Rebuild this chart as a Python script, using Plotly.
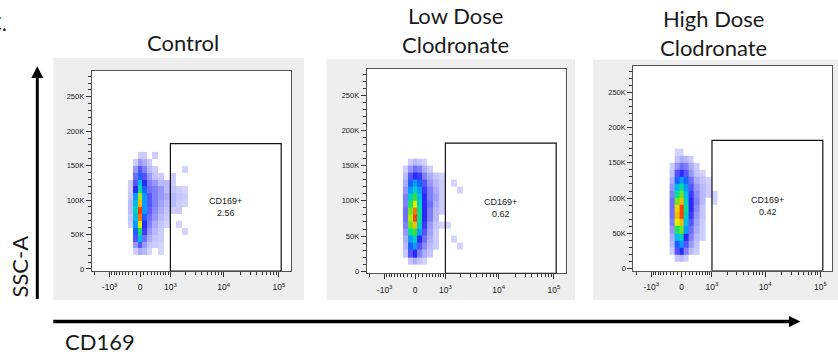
import numpy as np
import plotly.graph_objects as go

# ---------------- data ----------------
COFACTOR = 613.0  # arcsinh display transform of the CD169 (biexponential-like) axis


def disp(v):
    return np.arcsinh(np.asarray(v, dtype=float) / COFACTOR)


panel_titles = ["Control", "Low Dose<br>Clodronate", "High Dose<br>Clodronate"]
gate_name = "CD169+"
gate_percent = ["2.56", "0.62", "0.42"]
gate_cd169 = [1000, 110000]
gate_ssc_top = 182000

x_tick_vals = [-1000, 0, 1000, 10000, 100000]
x_tick_text = ["-10<sup>3</sup>", "0", "10<sup>3</sup>", "10<sup>4</sup>", "10<sup>5</sup>"]
x_minor_vals = [-2000, -900, -800, -700, -600, -500, -400, -300, -200, -100,
                100, 200, 300, 400, 500, 600, 700, 800, 900,
                2000, 3000, 4000, 5000, 6000, 7000, 8000, 9000,
                20000, 30000, 40000, 50000, 60000, 70000, 80000, 90000]
y_tick_vals = [0, 50000, 100000, 150000, 200000, 250000]
y_tick_text = ["0", "50K", "100K", "150K", "200K", "250K"]

# density bins (event density, 0-10 relative), rows listed from 160-170K down to 10-20K
cd169_bin_edges = [-320, -190, -60, 60, 190, 320, 500, 720, 980, 1300, 1700, 2200, 2900]
ssc_bin_edges = [10000, 20000, 30000, 40000, 50000, 60000, 70000, 80000, 90000,
                 100000, 110000, 120000, 130000, 140000, 150000, 160000, 170000]

density_control = [
    [0, 0, 0.3, 0.3, 0, 0.3, 0, 0, 0, 0, 0, 0],
    [0, 0.3, 0.8, 0.6, 0.3, 0, 0, 0, 0, 0, 0, 0],
    [0, 0.8, 1.5, 1.0, 0.5, 0.3, 0, 0, 0, 0, 0.2, 0],
    [0, 1.2, 2.5, 1.5, 0.8, 0.4, 0.3, 0, 0.3, 0, 0, 0],
    [0.3, 1.5, 3.5, 2.0, 1.0, 0.8, 0.5, 0.5, 0.3, 0, 0, 0],
    [0.3, 2.0, 4.5, 2.5, 1.2, 1.0, 0.8, 0.5, 0.4, 0.3, 0.2, 0],
    [0.4, 3.0, 6.5, 3.0, 1.5, 1.0, 0.8, 0.6, 0.5, 0.4, 0.3, 0],
    [0.5, 3.5, 8.0, 3.0, 1.5, 1.0, 0.7, 0.5, 0.5, 0.3, 0.2, 0],
    [0.5, 4.0, 9.5, 3.0, 1.4, 0.9, 0.6, 0.4, 0.3, 0.3, 0, 0],
    [0.4, 3.5, 9.0, 2.5, 1.2, 0.8, 0.5, 0.3, 0, 0, 0, 0],
    [0.3, 3.0, 7.0, 2.0, 1.0, 0.6, 0.4, 0.2, 0, 0.2, 0, 0],
    [0, 2.5, 5.0, 1.8, 0.8, 0.5, 0.3, 0, 0, 0, 0.2, 0],
    [0, 1.5, 3.5, 1.2, 0.6, 0.4, 0.3, 0, 0, 0, 0, 0],
    [0, 0.8, 1.5, 0.8, 0.4, 0.3, 0.2, 0, 0, 0, 0, 0],
    [0, 0.3, 0.6, 0.5, 0.2, 0, 0.2, 0, 0, 0, 0, 0],
    [0, 0, 0, 0, 0, 0, 0, 0, 0, 0, 0, 0],
]
density_low = [
    [0, 0, 0, 0, 0, 0, 0, 0, 0, 0, 0, 0],
    [0, 0.3, 0.5, 0.4, 0.2, 0, 0, 0, 0, 0, 0, 0],
    [0.3, 0.8, 1.2, 1.0, 0.6, 0.3, 0, 0, 0, 0, 0, 0],
    [0.5, 1.5, 2.0, 1.8, 1.0, 0.6, 0.4, 0.2, 0, 0, 0, 0],
    [0.6, 2.5, 3.0, 2.5, 1.5, 0.8, 0.5, 0.3, 0, 0.2, 0, 0],
    [0.8, 3.0, 4.0, 3.0, 1.8, 1.0, 0.6, 0.3, 0, 0, 0.2, 0],
    [1.0, 4.0, 5.5, 3.5, 2.0, 1.0, 0.7, 0.3, 0, 0, 0, 0],
    [1.0, 5.0, 7.0, 4.0, 2.0, 1.2, 0.6, 0.3, 0, 0, 0, 0],
    [1.2, 6.0, 9.0, 4.5, 2.0, 1.0, 0.5, 0.3, 0, 0, 0, 0],
    [1.2, 6.5, 9.5, 4.5, 2.0, 1.0, 0.5, 0, 0, 0, 0, 0],
    [1.0, 6.0, 8.0, 4.0, 1.8, 0.8, 0.4, 0.2, 0.2, 0, 0, 0],
    [0.8, 4.5, 5.5, 3.0, 1.5, 0.7, 0.3, 0, 0, 0, 0, 0],
    [0.6, 3.0, 4.0, 2.0, 1.2, 0.6, 0.3, 0, 0, 0.2, 0, 0],
    [0.5, 2.5, 3.0, 1.5, 0.9, 0.5, 0.3, 0, 0, 0, 0.2, 0],
    [0.4, 1.5, 2.0, 1.0, 0.6, 0.4, 0, 0, 0, 0, 0, 0],
    [0, 0.4, 0.6, 0.4, 0.2, 0, 0, 0, 0, 0, 0, 0],
]
density_high = [
    [0, 0.2, 0.2, 0, 0, 0, 0, 0, 0, 0, 0, 0],
    [0, 0.4, 0.6, 0.5, 0.3, 0, 0, 0, 0, 0, 0, 0],
    [0.3, 0.8, 1.2, 1.0, 0.6, 0.3, 0, 0, 0, 0, 0, 0],
    [0.4, 1.5, 2.0, 1.5, 0.8, 0.4, 0.2, 0, 0, 0, 0, 0],
    [0.6, 2.5, 3.0, 2.5, 1.2, 0.6, 0.4, 0.2, 0, 0, 0, 0],
    [0.8, 3.5, 4.5, 3.0, 1.5, 0.8, 0.5, 0.3, 0, 0, 0, 0],
    [1.0, 4.5, 6.0, 3.5, 1.8, 0.9, 0.5, 0.3, 0.2, 0, 0, 0],
    [1.2, 6.0, 8.0, 4.0, 2.0, 1.0, 0.5, 0, 0.2, 0, 0, 0],
    [1.2, 7.5, 9.5, 4.5, 2.0, 0.9, 0.4, 0, 0, 0, 0, 0],
    [1.2, 8.0, 9.5, 4.0, 1.8, 0.8, 0.4, 0, 0, 0, 0, 0],
    [1.0, 7.0, 8.0, 3.5, 1.5, 0.7, 0.3, 0, 0, 0, 0, 0],
    [0.8, 5.0, 6.0, 3.0, 1.2, 0.6, 0.3, 0, 0, 0, 0, 0],
    [0.6, 3.5, 4.0, 2.0, 1.0, 0.5, 0.3, 0, 0, 0, 0, 0],
    [0.5, 2.5, 3.0, 1.5, 0.8, 0.4, 0, 0, 0, 0, 0, 0],
    [0.3, 1.5, 2.0, 1.0, 0.5, 0.3, 0, 0, 0, 0, 0, 0],
    [0, 0.4, 0.5, 0.3, 0, 0, 0, 0, 0, 0, 0, 0],
]
densities = [density_control, density_low, density_high]

# ---------------- layout geometry (pixels) ----------------
W, H = 838, 358
plot_boxes = [  # left, right, top, bottom of each plot frame
    (91.7, 290.7, 71.0, 272.7),
    (366.7, 565.7, 69.0, 275.0),
    (633.3, 832.3, 66.0, 272.3),
]
panel_boxes = [  # grey panel backgrounds
    (53.3, 304.0, 58.3, 301.7),
    (326.7, 575.0, 59.3, 301.7),
    (593.3, 838.0, 60.0, 301.7),
]
title_pos = [(183, 43), (455, 30), (713, 33.5)]
X_RANGE = [-2.0125, 6.279]
Y_RANGE = [-3200, 288000]


def px(x):
    return x / W


def py(y):
    return 1 - y / H


colorscale = [
    [0.0, "#e2e2ff"], [0.04, "#c4c4ff"], [0.1, "#8080ff"], [0.2, "#2a2aff"],
    [0.32, "#00b0ff"], [0.44, "#00e0a0"], [0.55, "#38e030"], [0.7, "#e0f000"],
    [0.85, "#ffa000"], [1.0, "#ff1000"],
]

fig = go.Figure()
shapes = []
annotations = []
TXT = "#1a1a1a"
TITLE_FONT = dict(family="Lato", size=22, color=TXT)
TICK_COMMON = dict(showline=True, linecolor="#555555", linewidth=1, mirror=True,
                   ticks="outside", ticklen=5, tickwidth=1, tickcolor="#333333",
                   showgrid=False, zeroline=False)

for (l, r, t, b) in panel_boxes:
    shapes.append(dict(type="rect", xref="paper", yref="paper", x0=px(l), x1=px(r),
                       y0=py(b), y1=py(t), fillcolor="#eeeeee", line=dict(width=0),
                       layer="below"))
for (l, r, t, b) in plot_boxes:
    shapes.append(dict(type="rect", xref="paper", yref="paper", x0=px(l), x1=px(r),
                       y0=py(b), y1=py(t), fillcolor="white", line=dict(width=0),
                       layer="below"))

x_edges_disp = disp(cd169_bin_edges)
for i in range(3):
    n = "" if i == 0 else str(i + 1)
    xa, ya = "x" + n, "y" + n
    l, r, t, b = plot_boxes[i]
    z = [[(v if v > 0 else None) for v in row] for row in densities[i][::-1]]
    fig.add_trace(go.Heatmap(
        x=x_edges_disp, y=ssc_bin_edges, z=z, xaxis=xa, yaxis=ya,
        colorscale=colorscale, zmin=0, zmax=10, showscale=False, hoverinfo="skip",
    ))
    fig.update_layout(**{
        ("xaxis" + n): dict(domain=[px(l), px(r)], range=X_RANGE, anchor=ya,
                            tickmode="array", tickvals=disp(x_tick_vals).tolist(),
                            ticktext=x_tick_text, ticklabelstandoff=3,
                            tickfont=dict(family="Liberation Sans", size=8.5, color="#222222"),
                            minor=dict(tickmode="array", tickvals=disp(x_minor_vals).tolist(),
                                       ticklen=3, tickcolor="#333333", showgrid=False),
                            **TICK_COMMON),
        ("yaxis" + n): dict(domain=[py(b), py(t)], range=Y_RANGE, anchor=xa,
                            tickmode="array", tickvals=y_tick_vals, ticktext=y_tick_text,
                            tickfont=dict(family="Liberation Sans", size=7.5, color="#222222"),
                            minor=dict(dtick=10000, tick0=0, ticklen=3,
                                       tickcolor="#333333", showgrid=False),
                            **TICK_COMMON),
    })
    gx0, gx1 = disp(gate_cd169)
    shapes.append(dict(type="rect", xref=xa, yref=ya, x0=gx0, x1=gx1,
                       y0=Y_RANGE[0], y1=gate_ssc_top,
                       line=dict(color="#111111", width=1.2), layer="above"))
    annotations.append(dict(xref=xa, yref=ya, x=(gx0 + gx1) / 2,
                            y=(Y_RANGE[0] + gate_ssc_top) / 2,
                            text=gate_name + "<br>" + gate_percent[i], showarrow=False,
                            font=dict(family="Liberation Sans", size=9, color="#222222"),
                            align="center"))
    tx, ty = title_pos[i]
    annotations.append(dict(xref="paper", yref="paper", x=px(tx), y=py(ty),
                            xanchor="center", yanchor="middle", text=panel_titles[i],
                            showarrow=False, font=TITLE_FONT, align="center"))

# big axis arrows
shapes.append(dict(type="line", xref="paper", yref="paper", x0=px(37.3), x1=px(37.3),
                   y0=py(300.7), y1=py(77), line=dict(color="black", width=3)))
shapes.append(dict(type="path", xref="paper", yref="paper",
                   path=f"M {px(31.3)} {py(78.5)} L {px(43.3)} {py(78.5)} L {px(37.3)} {py(66.5)} Z",
                   fillcolor="black", line=dict(width=0)))
shapes.append(dict(type="line", xref="paper", yref="paper", x0=px(53.3), x1=px(790),
                   y0=py(323.3), y1=py(323.3), line=dict(color="black", width=3.3)))
shapes.append(dict(type="path", xref="paper", yref="paper",
                   path=f"M {px(789)} {py(317.8)} L {px(789)} {py(328.8)} L {px(800.5)} {py(323.3)} Z",
                   fillcolor="black", line=dict(width=0)))

annotations.append(dict(xref="paper", yref="paper", x=px(20), y=py(268), text="SSC-A",
                        textangle=-90, showarrow=False, xanchor="center", yanchor="middle",
                        font=TITLE_FONT))
annotations.append(dict(xref="paper", yref="paper", x=px(63), y=py(343), text="CD169",
                        showarrow=False, xanchor="left", yanchor="middle", font=TITLE_FONT))
annotations.append(dict(xref="paper", yref="paper", x=px(9), y=py(23), text="C.",
                        showarrow=False, xanchor="right", yanchor="middle", font=TITLE_FONT))

fig.update_layout(width=W, height=H, margin=dict(l=0, r=0, t=0, b=0),
                  paper_bgcolor="white", plot_bgcolor="rgba(0,0,0,0)",
                  showlegend=False, shapes=shapes, annotations=annotations)

fig.write_html("out.html")
